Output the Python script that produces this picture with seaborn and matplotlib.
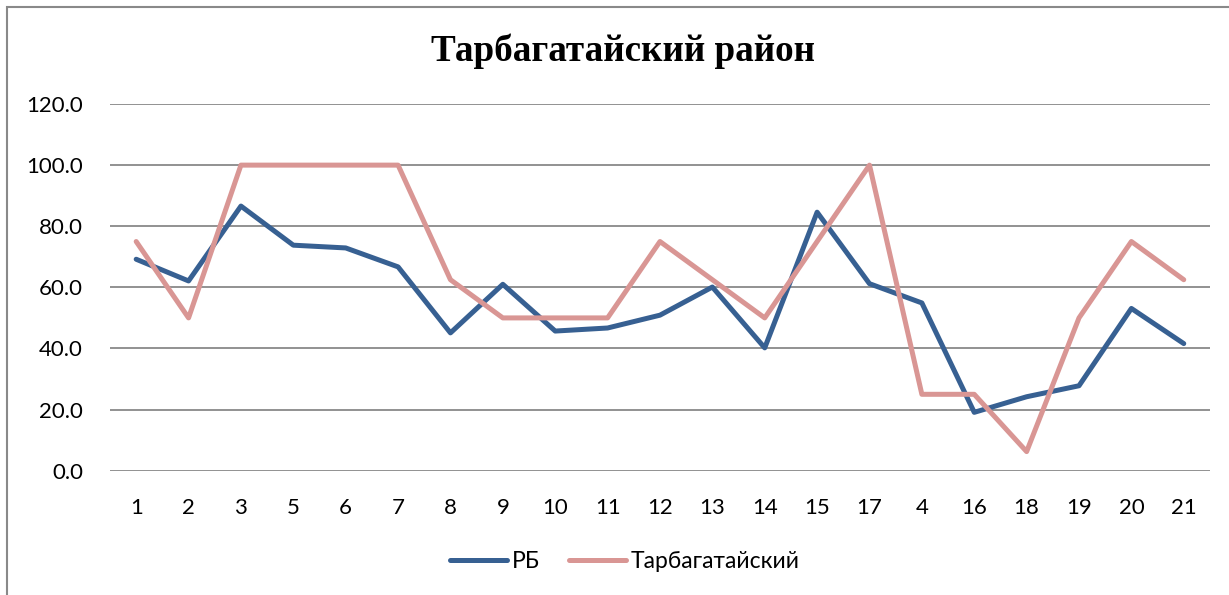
import pandas as pd
import matplotlib.pyplot as plt
import seaborn as sns

# Категории (номера вопросов) в порядке оси X
categories = ['1', '2', '3', '5', '6', '7', '8', '9', '10', '11', '12',
              '13', '14', '15', '17', '4', '16', '18', '19', '20', '21']

# Значения по РБ
rb = [69.2, 62.1, 86.6, 73.8, 72.9, 66.7, 45.1, 61.0, 45.7, 46.7, 50.9,
      60.1, 40.2, 84.6, 61.2, 54.9, 19.1, 24.2, 27.8, 53.1, 41.6]

# Значения по Тарбагатайскому району
tarb = [75.0, 50.0, 100.0, 100.0, 100.0, 100.0, 62.5, 50.0, 50.0, 50.0, 75.0,
        62.5, 50.0, 75.0, 100.0, 25.0, 25.0, 6.25, 50.0, 75.0, 62.5]

series_names = ['РБ', 'Тарбагатайский']
colors = ['#376092', '#D99694']

df = pd.DataFrame({
    'cat': categories * 2,
    'val': rb + tarb,
    'series': [series_names[0]] * len(categories) + [series_names[1]] * len(categories),
})

sns.set_style('white')
plt.rcParams['font.family'] = ['Lato', 'DejaVu Sans']
plt.rcParams['text.color'] = 'black'

fig = plt.figure(figsize=(12.29, 5.95), dpi=100)
ax = fig.add_axes([0.0895, 0.2089, 0.895, 0.6163])

sns.lineplot(data=df, x='cat', y='val', hue='series', palette=colors,
             sort=False, linewidth=3.6, ax=ax, legend=True)

ax.set_xlim(-0.5, len(categories) - 0.5)
ax.set_ylim(0, 120)
ax.set_yticks(range(0, 121, 20))
ax.set_yticklabels([f'{v:.1f}' for v in range(0, 121, 20)])
ax.yaxis.grid(True, color='#898989', linewidth=1.3)
ax.set_axisbelow(True)
for s in ax.spines.values():
    s.set_visible(False)
ax.tick_params(axis='both', length=0, labelsize=16, colors='black')
ax.tick_params(axis='x', pad=19.5)
ax.tick_params(axis='y', pad=19.5)
ax.set_xlabel('')
ax.set_ylabel('')

fig.text(0.5073, 1 - 61 / 595, 'Тарбагатайский район', ha='center', va='baseline',
         fontsize=26.7, fontweight='bold', family='Liberation Serif', color='black')

handles, labels = ax.get_legend_handles_labels()
ax.legend(handles, labels, loc='center', bbox_to_anchor=(0.5085, 1 - 562 / 595),
          bbox_transform=fig.transFigure, ncol=2, frameon=False,
          fontsize=16.5, handlelength=2.5, columnspacing=1.25, handletextpad=0.2)
for line in ax.get_legend().get_lines():
    line.set_linewidth(3.6)
    line.set_solid_capstyle('round')

# рамка области диаграммы (видны только левая и верхняя стороны)
fig.patches.append(plt.Rectangle((7 / 1229, -0.5), 1.5, 1.5 - 7 / 595,
                                 transform=fig.transFigure, fill=False,
                                 edgecolor='#898989', linewidth=1.5))

fig.savefig('out.png', dpi=100)
